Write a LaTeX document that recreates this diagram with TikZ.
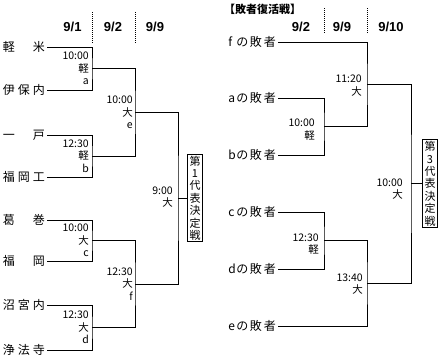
\documentclass[tikz,border=0pt]{standalone}
\usepackage{fontspec}
\setmainfont{Noto Sans CJK JP}
\newfontfamily\datefont{Liberation Sans}
\begin{document}
\begin{tikzpicture}[x=1pt,y=-1pt,
  line/.style={line width=1pt},
  team/.style={anchor=east, inner xsep=2pt, inner ysep=0pt, font=\fontsize{12}{12}\selectfont},
  lab/.style={anchor=east, inner sep=0pt, align=right, font=\fontsize{10.5}{12.5}\selectfont},
  vbox/.style={draw, line width=1pt, anchor=west, inner xsep=2pt, inner ysep=1.5pt, align=center, font=\fontsize{11}{12.4}\selectfont},
  sep/.style={line width=0.8pt, dash pattern=on 1pt off 1pt},
  date/.style={font=\datefont\bfseries\fontsize{13}{13}\selectfont, inner sep=0pt}
]
\useasboundingbox (0,0) rectangle (441,357);

% ---------- left bracket ----------
\node[date] (d1) at (72.5,27) {9/1};
\node[date] (d2) at (113,27) {9/2};
\node[date] (d3) at (155,27) {9/9};
\coordinate (s1a) at (92,12); \coordinate (s1b) at (92,43);
\coordinate (s2a) at (135,12); \coordinate (s2b) at (135,43);
\draw[sep] (s1a) -- (s1b);
\draw[sep] (s2a) -- (s2b);

\node[team] (L1) at (47,47)  {\makebox[42pt][s]{軽\hfill 米}};
\node[team] (L2) at (47,90)  {\makebox[42pt][s]{伊\hfill 保\hfill 内}};
\node[team] (L3) at (47,135) {\makebox[42pt][s]{一\hfill 戸}};
\node[team] (L4) at (47,177) {\makebox[42pt][s]{福\hfill 岡\hfill 工}};
\node[team] (L5) at (47,220) {\makebox[42pt][s]{葛\hfill 巻}};
\node[team] (L6) at (47,261) {\makebox[42pt][s]{福\hfill 岡}};
\node[team] (L7) at (47,305) {\makebox[42pt][s]{沼\hfill 宮\hfill 内}};
\node[team] (L8) at (47,350) {\makebox[42pt][s]{浄\hfill 法\hfill 寺}};

\coordinate (ma) at (92,68.5);
\coordinate (mb) at (92,156);
\coordinate (mc) at (92,240.5);
\coordinate (md) at (92,327.5);
\coordinate (me) at (135,112.25);
\coordinate (mf) at (135,284);
\coordinate (mfin) at (178,198);

\draw[line] (L1.east) -| (ma) |- (L2.east);
\draw[line] (L3.east) -| (mb) |- (L4.east);
\draw[line] (L5.east) -| (mc) |- (L6.east);
\draw[line] (L7.east) -| (md) |- (L8.east);
\draw[line] (ma) -| (me) |- (mb);
\draw[line] (mc) -| (mf) |- (md);
\draw[line] (me) -| (mfin) |- (mf);

\node[vbox] (box1) at (187,198) {第\\1\\代\\表\\決\\定\\戦};
\draw[line] (mfin) -- (box1.west);

\node[lab] (la) at (89,68.5)  {10:00\\軽\\a};
\node[lab] (lb) at (89,156)   {12:30\\軽\\b};
\node[lab] (lc) at (89,240.5) {10:00\\大\\c};
\node[lab] (ld) at (89,327.5) {12:30\\大\\d};
\node[lab] (le) at (133,112.5) {10:00\\大\\e};
\node[lab] (lf) at (133,284)  {12:30\\大\\f};
\node[lab] (lfin) at (173,197) {9:00\\大};

% ---------- right bracket ----------
\node[anchor=west, inner sep=0pt, font=\bfseries\fontsize{11}{11}\selectfont] (title) at (224,9) {【敗者復活戦】};
\node[date] (rd1) at (301,26.5) {9/2};
\node[date] (rd2) at (342,26.5) {9/9};
\node[date] (rd3) at (391,26.5) {9/10};
\coordinate (s3a) at (324,8); \coordinate (s3b) at (324,33);
\coordinate (s4a) at (367,8); \coordinate (s4b) at (367,33);
\draw[sep] (s3a) -- (s3b);
\draw[sep] (s4a) -- (s4b);

\node[team] (R1) at (278,42)  {\makebox[8pt][l]{f}の\hspace{1.5pt}敗\hspace{2pt}者};
\node[team] (R2) at (278,98)  {\makebox[8pt][l]{a}の\hspace{1.5pt}敗\hspace{2pt}者};
\node[team] (R3) at (278,155) {\makebox[8pt][l]{b}の\hspace{1.5pt}敗\hspace{2pt}者};
\node[team] (R4) at (278,212) {\makebox[8pt][l]{c}の\hspace{1.5pt}敗\hspace{2pt}者};
\node[team] (R5) at (278,269) {\makebox[8pt][l]{d}の\hspace{1.5pt}敗\hspace{2pt}者};
\node[team] (R6) at (278,326) {\makebox[8pt][l]{e}の\hspace{1.5pt}敗\hspace{2pt}者};

\coordinate (rx1) at (324,126.5);
\coordinate (rx2) at (367,84.25);
\coordinate (rx3) at (324,240.5);
\coordinate (rx4) at (367,283.25);
\coordinate (rfin) at (411,183.75);

\draw[line] (R2.east) -| (rx1) |- (R3.east);
\draw[line] (R1.east) -| (rx2) |- (rx1);
\draw[line] (R4.east) -| (rx3) |- (R5.east);
\draw[line] (rx3) -| (rx4) |- (R6.east);
\draw[line] (rx2) -| (rfin) |- (rx4);

\node[vbox] (box3) at (422,183.75) {第\\3\\代\\表\\決\\定\\戦};
\draw[line] (rfin) -- (box3.west);

\node[lab] (r1) at (315,129.5) {10:00\\軽};
\node[lab] (r2) at (362,85.5)  {11:20\\大};
\node[lab] (r3) at (319,244)   {12:30\\軽};
\node[lab] (r4) at (363,284)   {13:40\\大};
\node[lab] (r5) at (403,189)   {10:00\\大};
\end{tikzpicture}
\end{document}
